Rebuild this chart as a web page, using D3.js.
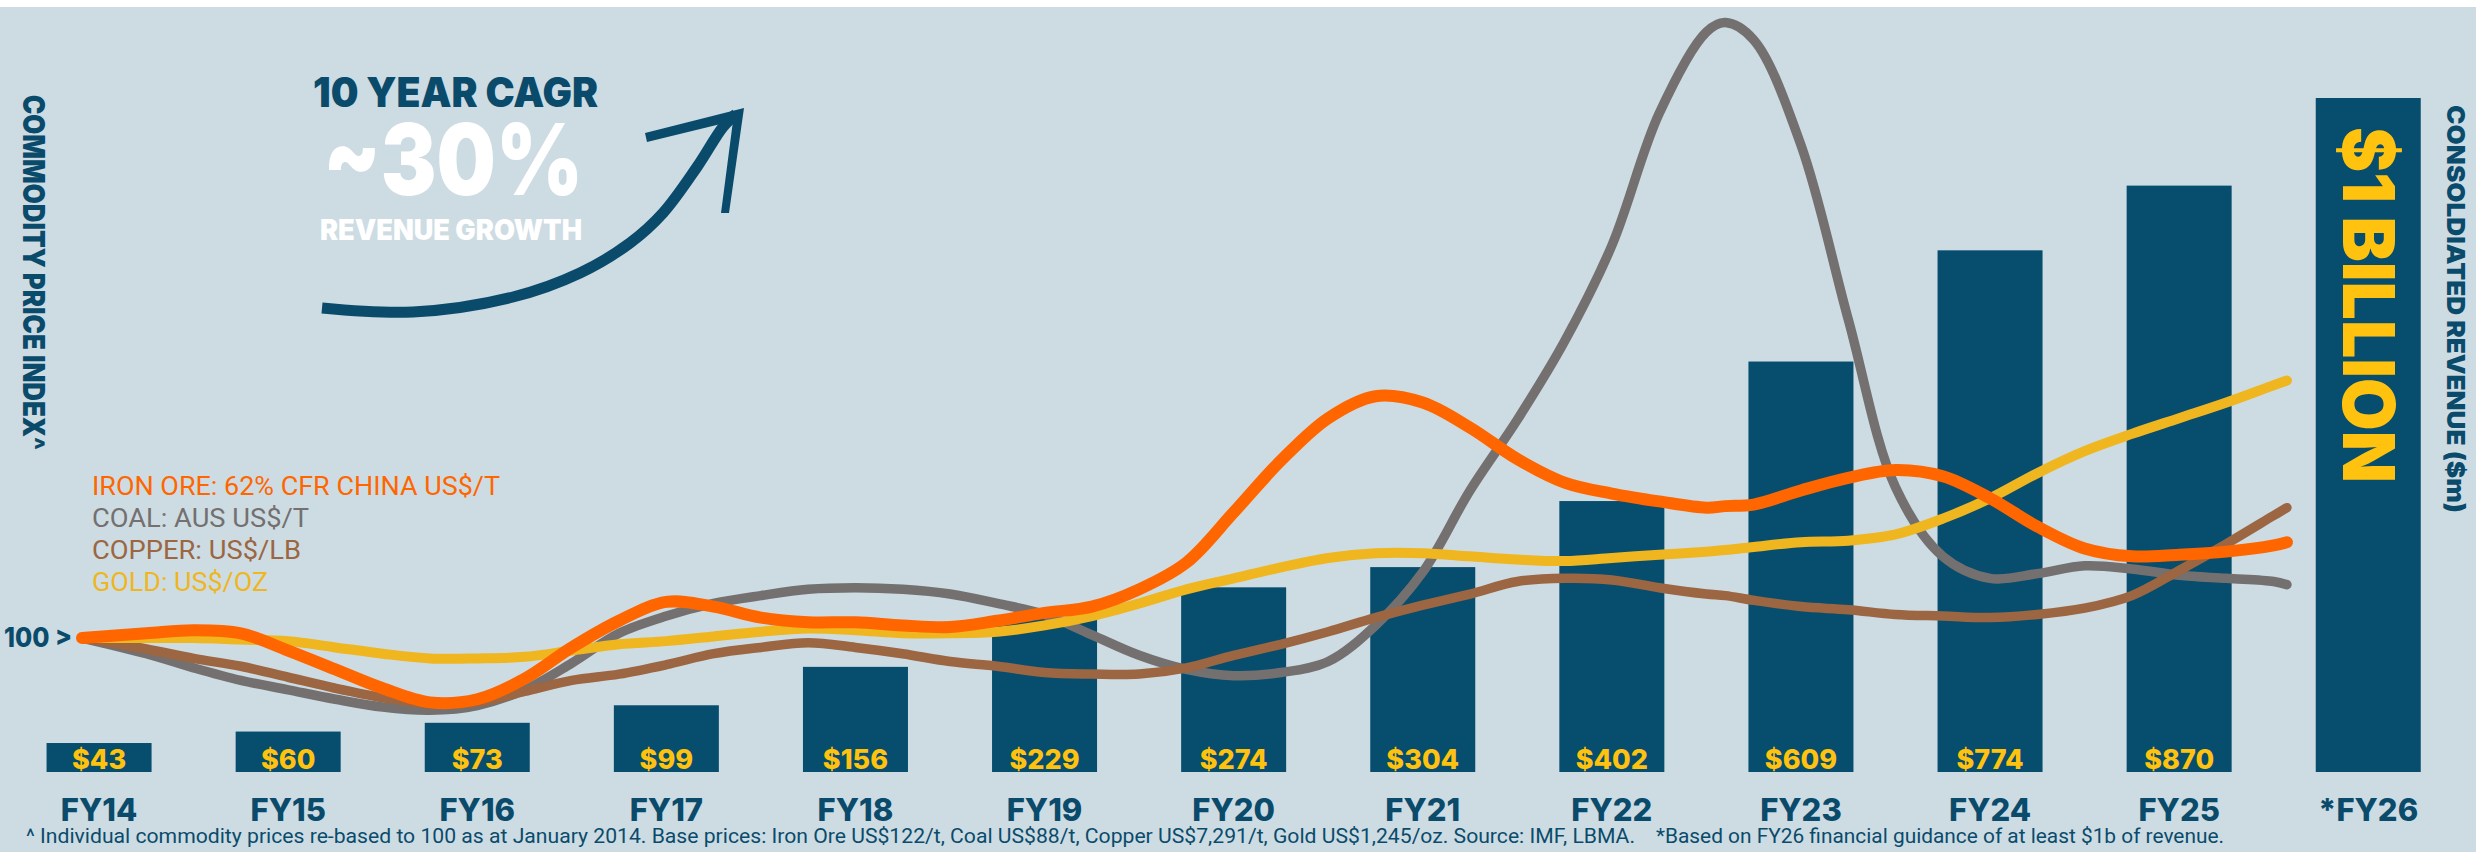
<!DOCTYPE html>
<html>
<head>
<meta charset="utf-8">
<script src="https://cdn.jsdelivr.net/npm/d3@7"></script>
<style>
  html, body { margin: 0; padding: 0; background: #ffffff; }
  svg { display: block; }
</style>
</head>
<body>
<svg id="chart" width="2476" height="852"></svg>
<script>
// ---------------- DATA ----------------
const categories = ["FY14","FY15","FY16","FY17","FY18","FY19","FY20","FY21","FY22","FY23","FY24","FY25","*FY26"];
const revenue = [43, 60, 73, 99, 156, 229, 274, 304, 402, 609, 774, 870, 1000];
const revenueLabels = ["$43","$60","$73","$99","$156","$229","$274","$304","$402","$609","$774","$870",""];

// commodity index dates (decimal years) and re-based values (Jan 2014 = 100)
const indexDates = [2013.91, 2014.25, 2014.5, 2014.75, 2015, 2015.25, 2015.5, 2015.75, 2016, 2016.25,
  2016.5, 2016.75, 2017, 2017.25, 2017.5, 2017.75, 2018, 2018.25, 2018.5, 2018.75,
  2019, 2019.25, 2019.5, 2019.75, 2020, 2020.25, 2020.5, 2020.75, 2021, 2021.25,
  2021.5, 2021.75, 2022, 2022.25, 2022.5, 2022.6, 2022.75, 2023, 2023.25, 2023.5,
  2023.75, 2024, 2024.25, 2024.5, 2024.75, 2025, 2025.25, 2025.5, 2025.57];
const ironOre = [100,103,105,103,92,80,68,59,61,74, 94,111,123,120,113,110,110,108,107,111,
  116,120,131,148,180,213,240,254,250,234, 214,199,192,187,183,184,185,194,202,207,
  203,189,171,157,152,153,155,159,161];
const coal = [100,90,81,73,67,61,56,54,57,67, 84,103,114,122,127,131,132,131,128,122,
  115,102,89,80,76,78,85,108,142,194, 239,289,350,434,486,492,481,414,303,196,
  152,138,141,146,144,140,138,136,134];
const copper = [100,93,87,82,75,68,62,58,59,66, 73,77,83,90,94,97,94,90,85,82,
  78,77,77,81,89,96,104,113,121,128, 136,138,137,132,128,127,124,120,118,115,
  114,113,115,119,127,143,160,178,183];
const gold = [100,100,100,99,98,94,90,87,87,88, 92,96,98,101,104,106,105,103,103,104,
  108,114,122,131,138,145,151,154,154,152, 150,149,151,153,155,156,158,161,162,166,
  176,189,205,219,230,240,250,261,264];

const seriesNames = ["COAL: AUS US$/T", "COPPER: US$/LB", "GOLD: US$/OZ", "IRON ORE: 62% CFR CHINA US$/T"];
const legendOrder = ["IRON ORE: 62% CFR CHINA US$/T", "COAL: AUS US$/T", "COPPER: US$/LB", "GOLD: US$/OZ"];

// ---------------- STYLE ----------------
const C = {
  bg: "#cddce3", bar: "#074d6d", text: "#0a4b6c", yellow: "#ffc20e",
  iron: "#ff6600", coal: "#747070", copper: "#9b6641", gold: "#efb61f", white: "#ffffff"
};
const seriesStyle = {
  "IRON ORE: 62% CFR CHINA US$/T": { data: ironOre, color: C.iron, width: 12, legendLen: 408 },
  "COAL: AUS US$/T": { data: coal, color: C.coal, width: 9.5, legendLen: 217 },
  "COPPER: US$/LB": { data: copper, color: C.copper, width: 9.5, legendLen: 209 },
  "GOLD: US$/OZ": { data: gold, color: C.gold, width: 10, legendLen: 176 }
};

const svg = d3.select("#chart");
const W = 2476, H = 852;

svg.append("rect").attr("x", 0).attr("y", 0).attr("width", W).attr("height", H).attr("fill", "#ffffff");
svg.append("rect").attr("x", 0).attr("y", 7).attr("width", W).attr("height", H - 7).attr("fill", C.bg);

// ---------------- SCALES ----------------
const x = d3.scaleBand().domain(categories).range([4.5, 2462.8]).paddingInner(0.4447).paddingOuter(0.2224);
const yRev = d3.scaleLinear().domain([0, 1000]).range([772, 98]);
const cx = c => x(c) + x.bandwidth() / 2;
const xDate = d3.scaleLinear().domain([2014, 2025]).range([cx("FY14"), cx("FY25")]);
const yIdx = d3.scaleLinear().domain([0, 500]).range([795, 10]);

const bold = "Inter, 'Noto Sans', 'DejaVu Sans', sans-serif";
const cond = "'Liberation Sans Narrow', Roboto, 'Liberation Sans', sans-serif";

// ---------------- BARS ----------------
const barData = categories.map((c, i) => ({ c, v: revenue[i], label: revenueLabels[i] }));
svg.append("g").selectAll("rect").data(barData).join("rect")
  .attr("x", d => x(d.c)).attr("width", x.bandwidth())
  .attr("y", d => yRev(d.v)).attr("height", d => yRev(0) - yRev(d.v))
  .attr("fill", C.bar);

svg.append("g").selectAll("text").data(barData.filter(d => d.label)).join("text")
  .attr("x", d => cx(d.c)).attr("y", 769)
  .attr("text-anchor", "middle")
  .attr("font-family", bold).attr("font-weight", 800).attr("font-size", 27)
  .attr("fill", C.yellow).text(d => d.label);

// $1 BILLION inside last bar
svg.append("text")
  .attr("transform", `translate(2343,127) rotate(90)`)
  .attr("font-family", bold).attr("font-weight", 900).attr("font-size", 72)
  .attr("fill", C.yellow)
  .attr("textLength", 356).attr("lengthAdjust", "spacingAndGlyphs")
  .text("$1 BILLION");

// ---------------- X AXIS (FY labels) ----------------
const xAxis = svg.append("g").attr("transform", "translate(0,772)")
  .call(d3.axisBottom(x).tickSize(0).tickPadding(27));
xAxis.select(".domain").remove();
xAxis.selectAll("text")
  .attr("font-family", bold).attr("font-weight", 800).attr("font-size", 31)
  .attr("fill", C.text);

// ---------------- INDEX LINES ----------------
const line = d3.line()
  .x(d => xDate(d.date)).y(d => yIdx(d.v))
  .curve(d3.curveCatmullRom.alpha(0.5));

svg.append("g").selectAll("path").data(seriesNames).join("path")
  .attr("d", n => line(indexDates.map((dt, i) => ({ date: dt, v: seriesStyle[n].data[i] }))))
  .attr("fill", "none")
  .attr("stroke", n => seriesStyle[n].color)
  .attr("stroke-width", n => seriesStyle[n].width)
  .attr("stroke-linecap", "round").attr("stroke-linejoin", "round");

// "100 >" index marker
const yAxis = svg.append("g").attr("transform", "translate(75,0)")
  .call(d3.axisLeft(yIdx).tickValues([100]).tickSize(0).tickPadding(3).tickFormat(() => "100 >"));
yAxis.select(".domain").remove();
yAxis.selectAll("text")
  .attr("font-family", bold).attr("font-weight", 800).attr("font-size", 27)
  .attr("fill", C.text).attr("textLength", 68).attr("lengthAdjust", "spacingAndGlyphs");

// ---------------- LEGEND ----------------
svg.append("g").selectAll("text").data(legendOrder).join("text")
  .attr("x", 92).attr("y", (d, i) => 495 + i * 32)
  .attr("font-family", cond).attr("font-weight", 400).attr("font-size", 25)
  .attr("fill", d => seriesStyle[d].color)
  .attr("textLength", d => seriesStyle[d].legendLen).attr("lengthAdjust", "spacingAndGlyphs")
  .text(d => d);

// ---------------- AXIS TITLES ----------------
svg.append("text")
  .attr("transform", "translate(23,95) rotate(90)")
  .attr("font-family", bold).attr("font-weight", 900).attr("font-size", 30)
  .attr("fill", C.text)
  .attr("textLength", 355).attr("lengthAdjust", "spacingAndGlyphs")
  .text("COMMODITY PRICE INDEX^");

svg.append("text")
  .attr("transform", "translate(2447,105) rotate(90)")
  .attr("font-family", bold).attr("font-weight", 900).attr("font-size", 25)
  .attr("fill", C.text)
  .attr("textLength", 408).attr("lengthAdjust", "spacingAndGlyphs")
  .text("CONSOLDIATED REVENUE ($m)");

// ---------------- CAGR ANNOTATION ----------------
svg.append("text").attr("x", 313).attr("y", 107)
  .attr("font-family", bold).attr("font-weight", 900).attr("font-size", 41)
  .attr("fill", C.text).attr("textLength", 285).attr("lengthAdjust", "spacingAndGlyphs")
  .text("10 YEAR CAGR");
svg.append("text").attr("x", 323).attr("y", 195)
  .attr("font-family", bold).attr("font-weight", 900).attr("font-size", 99)
  .attr("fill", C.white).attr("textLength", 260).attr("lengthAdjust", "spacingAndGlyphs")
  .text("~30%");
svg.append("text").attr("x", 320).attr("y", 240)
  .attr("font-family", bold).attr("font-weight", 900).attr("font-size", 28)
  .attr("fill", C.white).attr("textLength", 262).attr("lengthAdjust", "spacingAndGlyphs")
  .text("REVENUE GROWTH");

const arrowPts = [[322,308],[413,312],[513,297],[580,273],[630,243],[663,213],[697,167],[723,127],[736,114]];
svg.append("path")
  .attr("d", d3.line().curve(d3.curveCatmullRom.alpha(0.5))(arrowPts))
  .attr("fill", "none").attr("stroke", C.text).attr("stroke-width", 11);
svg.append("path")
  .attr("d", "M744,108 L645,133 L647,142 L733,121 L721,213 L729,213 Z")
  .attr("fill", C.text);

// ---------------- FOOTNOTE ----------------
svg.append("text").attr("x", 26).attr("y", 843)
  .attr("font-family", cond).attr("font-size", 20).attr("fill", C.text)
  .attr("textLength", 1609).attr("lengthAdjust", "spacingAndGlyphs")
  .text("^ Individual commodity prices re-based to 100 as at January 2014. Base prices: Iron Ore US$122/t, Coal US$88/t, Copper US$7,291/t, Gold US$1,245/oz. Source: IMF, LBMA.");
svg.append("text").attr("x", 1656).attr("y", 843)
  .attr("font-family", cond).attr("font-size", 20).attr("fill", C.text)
  .attr("textLength", 568).attr("lengthAdjust", "spacingAndGlyphs")
  .text("*Based on FY26 financial guidance of at least $1b of revenue.");
</script>
</body>
</html>
